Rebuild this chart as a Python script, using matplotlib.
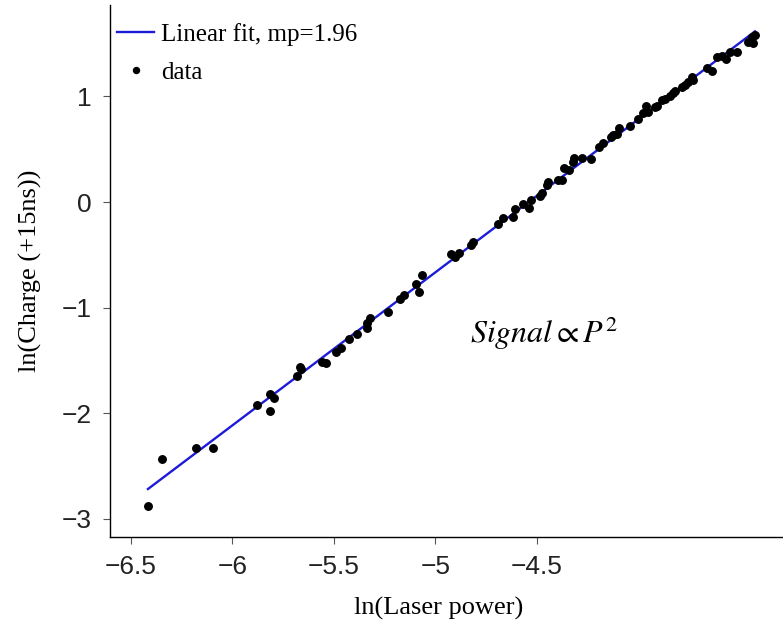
import matplotlib
matplotlib.use("Agg")
import matplotlib.pyplot as plt
import numpy as np

plt.rcParams["font.family"] = ["Liberation Serif", "DejaVu Serif"]
plt.rcParams["mathtext.fontset"] = "stix"

# ln(laser power) and ln(charge)
ln_power = np.array([
    -6.416, -6.347, -6.180, -6.096, -5.879, -5.815, -5.796, -5.815, -5.682, -5.667,
    -5.663, -5.559, -5.539, -5.490, -5.466, -5.426, -5.387, -5.337, -5.337, -5.323,
    -5.234, -5.175, -5.155, -5.096, -5.067, -5.081, -4.924, -4.904, -4.884, -4.825,
    -4.815, -4.692, -4.667, -4.618, -4.608, -4.569, -4.539, -4.530, -4.485, -4.475,
    -4.451, -4.446, -4.397, -4.377, -4.367, -4.342, -4.323, -4.318, -4.278, -4.234,
    -4.195, -4.175, -4.136, -4.126, -4.106, -4.096, -4.042, -4.002, -3.978, -3.963,
    -3.953, -3.919, -3.909, -3.884, -3.869, -3.845, -3.830, -3.820, -3.786, -3.771,
    -3.756, -3.736, -3.732, -3.663, -3.638, -3.613, -3.589, -3.569, -3.549, -3.515,
    -3.461, -3.441, -3.426, -3.436,
])
ln_charge = np.array([
    -2.882, -2.436, -2.332, -2.332, -1.924, -1.820, -1.858, -1.981, -1.649, -1.564,
    -1.583, -1.517, -1.526, -1.422, -1.384, -1.299, -1.251, -1.194, -1.147, -1.100,
    -1.043, -0.919, -0.882, -0.777, -0.692, -0.853, -0.493, -0.521, -0.483, -0.408,
    -0.379, -0.209, -0.152, -0.142, -0.066, -0.019, -0.057, 0.019, 0.057, 0.085,
    0.161, 0.190, 0.209, 0.209, 0.322, 0.303, 0.379, 0.417, 0.417, 0.408,
    0.521, 0.559, 0.616, 0.635, 0.645, 0.701, 0.720, 0.787, 0.844, 0.910,
    0.853, 0.900, 0.910, 0.967, 0.976, 1.005, 1.033, 1.052, 1.090, 1.109,
    1.137, 1.185, 1.156, 1.270, 1.242, 1.374, 1.384, 1.355, 1.422, 1.422,
    1.517, 1.564, 1.583, 1.507,
])

x_ticks = [-6.5, -6, -5.5, -5, -4.5]
x_tick_labels = ["\u22126.5", "\u22126", "\u22125.5", "\u22125", "\u22124.5"]
y_ticks = [-3, -2, -1, 0, 1]
y_tick_labels = ["\u22123", "\u22122", "\u22121", "0", "1"]

fig = plt.figure(figsize=(7.83, 6.27), dpi=100)
ax = fig.add_axes([0.1405, 0.1435, 0.8595, 0.8485])

coef = np.polyfit(ln_power, ln_charge, 1)
x_fit = np.array([ln_power.min(), ln_power.max()])
ax.plot(x_fit, np.polyval(coef, x_fit), color="#1c1cd8", lw=1.7,
        label="Linear fit, mp=1.96")
ax.plot(ln_power, ln_charge, "o", color="black", ms=5.4, label="data")

ax.text(-4.83, -1.34, r"$Signal \propto P^2$", fontsize=23)

ax.set_xlim(-6.603, -3.288)
ax.set_ylim(-3.175, 1.867)
ax.set_xticks(x_ticks)
ax.set_xticklabels(x_tick_labels)
ax.set_yticks(y_ticks)
ax.set_yticklabels(y_tick_labels)
for lab in ax.get_xticklabels() + ax.get_yticklabels():
    lab.set_family(["Liberation Sans", "DejaVu Sans"])
    lab.set_fontsize(19)
    lab.set_color("#222222")
ax.tick_params(direction="out", length=5, width=0.8, color="#555555", pad=8)

for side in ["top", "right"]:
    ax.spines[side].set_visible(False)
for side in ["left", "bottom"]:
    ax.spines[side].set_linewidth(1.0)

ax.set_xlabel("ln(Laser power)", fontsize=19, labelpad=14)
ax.xaxis.set_label_coords(0.488, -0.112)
ax.set_ylabel("ln(Charge (+15ns))", fontsize=19, labelpad=14)

ax.legend(loc="upper left", bbox_to_anchor=(-0.012, 0.995), frameon=False,
          fontsize=18, handlelength=1.5, handletextpad=0.25,
          borderaxespad=0.3, borderpad=0.3, labelspacing=0.62, markerscale=0.8)

fig.savefig("out.png", dpi=100)
